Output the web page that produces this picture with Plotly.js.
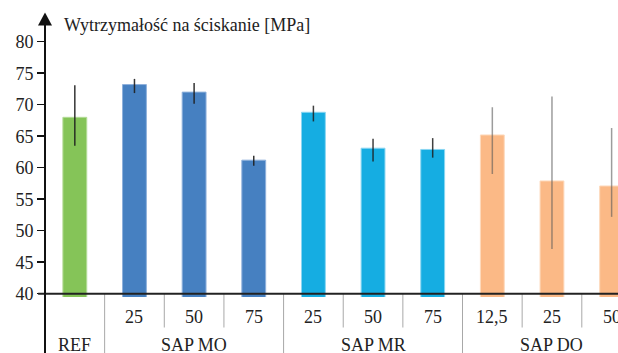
<!DOCTYPE html>
<html>
<head>
<meta charset="utf-8">
<script src="https://cdn.plot.ly/plotly-3.0.1.min.js"></script>
<style>html,body{margin:0;padding:0;background:#fff;}#chart{width:618px;height:353px;}</style>
</head>
<body>
<div id="chart"></div>
<script>
// ---- data ----
const groups = ['REF', 'SAP MO', 'SAP MO', 'SAP MO', 'SAP MR', 'SAP MR', 'SAP MR', 'SAP DO', 'SAP DO', 'SAP DO'];
const doses = ['', '25', '50', '75', '25', '50', '75', '12,5', '25', '50'];
const strength = [68.0, 73.2, 72.0, 61.2, 68.8, 63.1, 62.9, 65.2, 57.9, 57.1];
const errPlus = [5.1, 0.9, 1.45, 0.7, 1.05, 1.5, 1.8, 4.4, 13.4, 9.2];
const errMinus = [4.5, 1.35, 1.85, 0.9, 1.45, 2.1, 1.3, 6.2, 10.8, 4.9];
const yTicks = [40, 45, 50, 55, 60, 65, 70, 75, 80];
const titleText = 'Wytrzymałość na ściskanie [MPa]';

// ---- styles ----
const style = {
  'REF':    {fill: '#85C458', edge: '#B5DC98', err: 'rgba(30,30,30,0.9)'},
  'SAP MO': {fill: '#4680C1', edge: '#8FB1DC', err: 'rgba(30,30,30,0.9)'},
  'SAP MR': {fill: '#15ADE2', edge: '#8AD6F2', err: 'rgba(30,30,30,0.85)'},
  'SAP DO': {fill: '#FBB986', edge: '#FDD9BC', err: 'rgba(90,90,90,0.6)'}
};
const font = 'Liberation Serif';
const xr = [-0.5, 9.107];
const yr = [39.48, 84.4];

const idx = strength.map((_, i) => i);
const groupNames = [...new Set(groups)];
const traces = groupNames.map(g => {
  const ii = idx.filter(i => groups[i] === g);
  return {
    type: 'bar',
    x: ii,
    y: ii.map(i => strength[i]),
    name: g,
    marker: {color: style[g].fill, line: {color: style[g].edge, width: 1}},
    error_y: {type: 'data', symmetric: false,
      array: ii.map(i => errPlus[i]), arrayminus: ii.map(i => errMinus[i]),
      width: 0, thickness: 1.5, color: style[g].err},
    hoverinfo: 'skip'
  };
});

const H = 283; // plot height px
const pyFromPix = p => (297 - p) / H;
const shapes = [];
shapes.push({type: 'line', xref: 'paper', yref: 'y', x0: -0.012, x1: 1, y0: 40, y1: 40,
  line: {color: '#222', width: 2}});
for (let k = 0; k < groups.length - 1; k++) {
  const long = groups[k] !== groups[k + 1];
  shapes.push({type: 'line', xref: 'x', yref: 'paper', x0: k + 0.5, x1: k + 0.5,
    y0: pyFromPix(294), y1: long ? pyFromPix(360) : pyFromPix(327.5),
    line: {color: '#A8A8A8', width: 1}, layer: 'below'});
}
shapes.push({type: 'line', xref: 'paper', yref: 'paper', x0: 0, x1: 0,
  y0: pyFromPix(360), y1: pyFromPix(20), line: {color: '#111', width: 2}});
const ax = d => d / 573;
shapes.push({type: 'path', xref: 'paper', yref: 'paper',
  path: `M ${ax(-7)},${pyFromPix(25.5)} L ${ax(7)},${pyFromPix(25.5)} L 0,${pyFromPix(12.5)} Z`,
  fillcolor: '#111', line: {color: '#111', width: 0}});

const annotations = [];
annotations.push({text: titleText, xref: 'paper', yref: 'paper', x: 17 / 573, y: pyFromPix(24.5),
  xanchor: 'left', yanchor: 'middle', showarrow: false, font: {family: font, size: 18, color: '#222'}});
doses.forEach((d, i) => {
  if (d) annotations.push({text: d, xref: 'x', yref: 'paper', x: i, y: pyFromPix(316.5),
    xanchor: 'center', yanchor: 'middle', showarrow: false, font: {family: font, size: 18, color: '#222'}});
});
groupNames.forEach(g => {
  const ii = idx.filter(i => groups[i] === g);
  const c = (ii[0] + ii[ii.length - 1]) / 2;
  annotations.push({text: g, xref: 'x', yref: 'paper', x: c, y: pyFromPix(345),
    xanchor: 'center', yanchor: 'middle', showarrow: false, font: {family: font, size: 18, color: '#222'}});
});

const layout = {
  width: 618, height: 353,
  margin: {l: 45, r: 0, t: 14, b: 56, pad: 0},
  paper_bgcolor: '#fff', plot_bgcolor: '#fff',
  font: {family: font},
  showlegend: false,
  barmode: 'overlay',
  bargap: 0.6,
  xaxis: {range: xr, showticklabels: false, showgrid: false, zeroline: false, showline: false, ticks: ''},
  yaxis: {range: yr, tickvals: yTicks, ticktext: yTicks.map(String), ticks: 'outside', ticklen: 7,
    tickwidth: 1.5, tickcolor: '#111', showgrid: false, zeroline: false, showline: false,
    tickfont: {family: font, size: 18, color: '#222'}},
  shapes: shapes,
  annotations: annotations
};

Plotly.newPlot('chart', traces, layout, {staticPlot: true, displayModeBar: false});
</script>
</body>
</html>
